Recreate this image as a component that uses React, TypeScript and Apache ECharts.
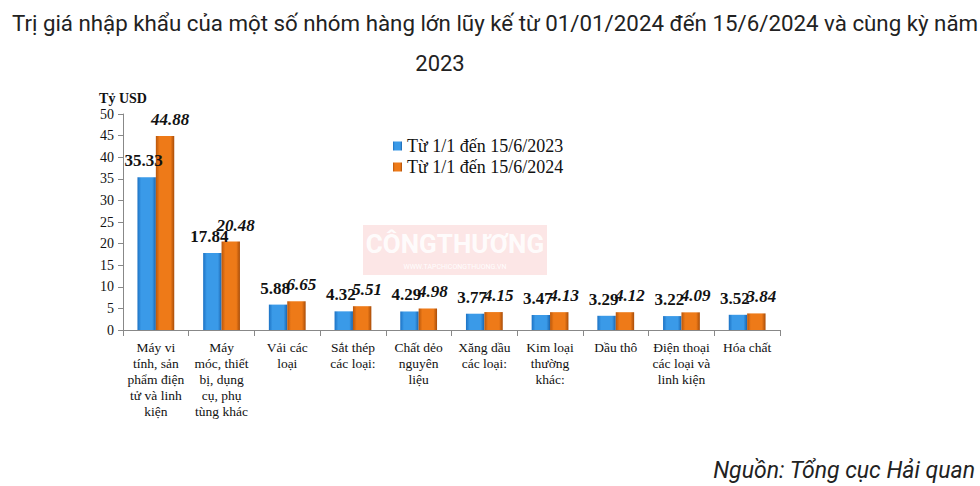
import React, { useEffect, useRef } from "react";
import * as echarts from "echarts";

const categories = [
  "Máy vi\ntính, sản\nphẩm điện\ntử và linh\nkiện",
  "Máy\nmóc, thiết\nbị, dụng\ncụ, phụ\ntùng khác",
  "Vải các\nloại",
  "Sắt thép\ncác loại:",
  "Chất dẻo\nnguyên\nliệu",
  "Xăng dầu\ncác loại:",
  "Kim loại\nthường\nkhác:",
  "Dầu thô",
  "Điện thoại\ncác loại và\nlinh kiện",
  "Hóa chất",
];
const values2023 = [35.33, 17.84, 5.88, 4.32, 4.29, 3.77, 3.47, 3.29, 3.22, 3.52];
const values2024 = [44.88, 20.48, 6.65, 5.51, 4.98, 4.15, 4.13, 4.12, 4.09, 3.84];
const seriesNames = ["Từ 1/1 đến 15/6/2023", "Từ 1/1 đến 15/6/2024"];
const titleLine1 = "Trị giá nhập khẩu của một số nhóm hàng lớn lũy kế từ 01/01/2024 đến 15/6/2024 và cùng kỳ năm";
const titleLine2 = "2023";
const sourceText = "Nguồn: Tổng cục Hải quan";

const serif = "'Liberation Serif', 'DejaVu Serif', serif";

export default function App() {
  const ref = useRef<HTMLDivElement>(null);
  useEffect(() => {
    if (!ref.current) return;
    const chart = echarts.init(ref.current, null, { renderer: "svg" });
    const blue = new echarts.graphic.LinearGradient(0, 0, 1, 0, [
      { offset: 0, color: "#1c72c4" },
      { offset: 0.2, color: "#3a9ae8" },
      { offset: 0.8, color: "#3a9ae8" },
      { offset: 1, color: "#1a64ad" },
    ]);
    const orange = new echarts.graphic.LinearGradient(0, 0, 1, 0, [
      { offset: 0, color: "#b9560a" },
      { offset: 0.2, color: "#ee7a18" },
      { offset: 0.8, color: "#ee7a18" },
      { offset: 1, color: "#a84c08" },
    ]);
    chart.setOption({
      animation: false,
      title: [
        {
          text: titleLine1,
          left: 490,
          top: 7,
          textAlign: "center",
          textStyle: { fontFamily: "Roboto", fontSize: 22.3, fontWeight: "normal", color: "#222" },
        },
        {
          text: titleLine2,
          left: 435,
          top: 47,
          textAlign: "center",
          textStyle: { fontFamily: "Roboto", fontSize: 22, fontWeight: "normal", color: "#222" },
        },
      ],
      legend: {
        orient: "vertical",
        left: 388,
        top: 132,
        itemWidth: 9,
        itemHeight: 9,
        itemGap: 3,
        icon: "rect",
        textStyle: { fontFamily: serif, fontSize: 18, color: "#111" },
        data: seriesNames,
      },
      graphic: [
        {
          type: "rect",
          shape: { x: 363, y: 225, width: 184, height: 50 },
          style: { fill: "rgba(240,140,140,0.22)" },
          silent: true,
        },
        {
          type: "text",
          x: 455,
          y: 244,
          style: {
            text: "CÔNGTHƯƠNG",
            fontFamily: "Roboto",
            fontWeight: "bold",
            fontSize: 26,
            fill: "rgba(255,255,255,0.9)",
            align: "center",
            verticalAlign: "middle",
          },
          silent: true,
        },
        {
          type: "text",
          x: 455,
          y: 267,
          style: {
            text: "WWW.TAPCHICONGTHUONG.VN",
            fontFamily: "Roboto",
            fontSize: 7,
            fill: "rgba(255,255,255,0.95)",
            align: "center",
            verticalAlign: "middle",
          },
          silent: true,
        },
        {
          type: "text",
          x: 975,
          y: 470,
          style: {
            text: sourceText,
            fontFamily: "Roboto",
            fontStyle: "italic",
            fontSize: 23,
            fill: "#222",
            align: "right",
            verticalAlign: "middle",
          },
        },
      ],
      grid: { left: 123, right: 200, top: 114, bottom: 156 },
      xAxis: {
        type: "category",
        data: categories,
        axisLine: { lineStyle: { color: "#888" } },
        axisTick: { show: true, alignWithLabel: false, length: 6, lineStyle: { color: "#888" } },
        axisLabel: {
          interval: 0,
          fontFamily: serif,
          fontSize: 13.5,
          lineHeight: 16,
          color: "#111",
          margin: 9,
        },
      },
      yAxis: {
        type: "value",
        min: 0,
        max: 50,
        interval: 5,
        name: "Tỷ USD",
        nameLocation: "end",
        nameGap: 9,
        nameTextStyle: { fontFamily: serif, fontSize: 14, fontWeight: "bold", color: "#111", align: "center" },
        axisLine: { show: true, lineStyle: { color: "#888" } },
        axisTick: { show: true, length: 5, lineStyle: { color: "#888" } },
        splitLine: { show: false },
        axisLabel: { fontFamily: serif, fontSize: 14, color: "#111", margin: 9 },
      },
      series: [
        {
          name: seriesNames[0],
          type: "bar",
          data: values2023,
          barGap: "0%",
          barCategoryGap: "44%",
          itemStyle: { color: blue },
          label: {
            show: true,
            position: "top",
            distance: 8,
            offset: [-3, 0],
            fontFamily: serif,
            fontSize: 17,
            fontWeight: "bold",
            color: "#111",
          },
        },
        {
          name: seriesNames[1],
          type: "bar",
          data: values2024,
          itemStyle: { color: orange },
          label: {
            show: true,
            position: "top",
            distance: 8,
            offset: [5, 0],
            fontFamily: serif,
            fontSize: 17,
            fontWeight: "bold",
            fontStyle: "italic",
            color: "#111",
          },
        },
      ],
    });
    return () => chart.dispose();
  }, []);
  return (
    <div
      ref={ref}
      style={{ position: "fixed", left: 0, top: 0, width: 980, height: 486, background: "#fff" }}
    />
  );
}
